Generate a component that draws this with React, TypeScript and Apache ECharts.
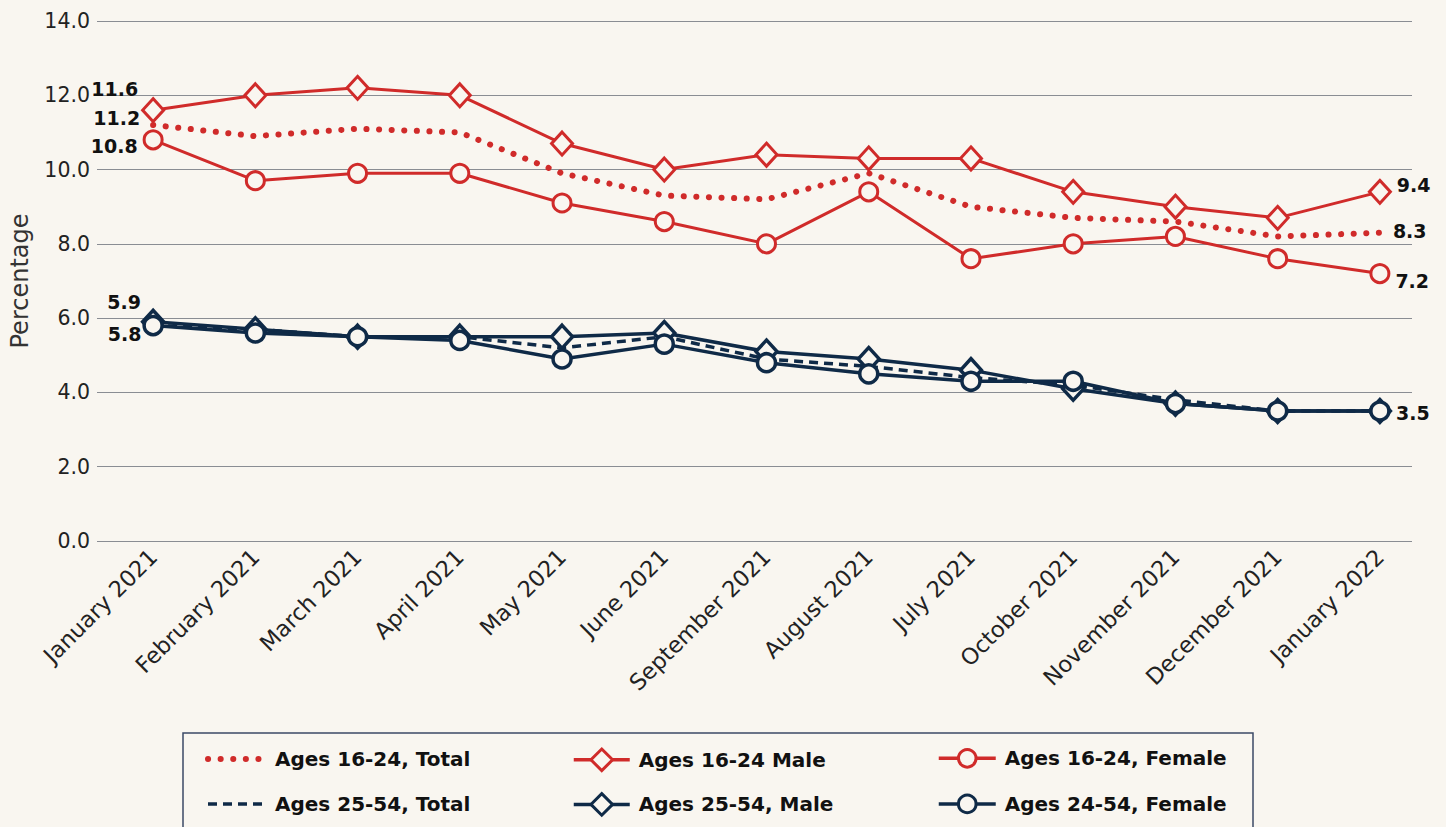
import React, { useEffect, useRef } from "react";
import * as echarts from "echarts";

const categories = [
  "January 2021", "February 2021", "March 2021", "April 2021", "May 2021", "June 2021",
  "September 2021", "August 2021", "July 2021", "October 2021", "November 2021",
  "December 2021", "January 2022",
];
const total1624 = [11.2, 10.9, 11.1, 11.0, 9.9, 9.3, 9.2, 9.9, 9.0, 8.7, 8.6, 8.2, 8.3];
const male1624 = [11.6, 12.0, 12.2, 12.0, 10.7, 10.0, 10.4, 10.3, 10.3, 9.4, 9.0, 8.7, 9.4];
const female1624 = [10.8, 9.7, 9.9, 9.9, 9.1, 8.6, 8.0, 9.4, 7.6, 8.0, 8.2, 7.6, 7.2];
const total2554 = [5.8, 5.7, 5.5, 5.5, 5.2, 5.5, 4.9, 4.7, 4.4, 4.2, 3.8, 3.5, 3.5];
const male2554 = [5.9, 5.7, 5.5, 5.5, 5.5, 5.6, 5.1, 4.9, 4.6, 4.1, 3.7, 3.5, 3.5];
const female2454 = [5.8, 5.6, 5.5, 5.4, 4.9, 5.3, 4.8, 4.5, 4.3, 4.3, 3.7, 3.5, 3.5];
const yTicks = { min: 0, max: 14, interval: 2 };

const RED = "#d02b2a";
const NAVY = "#0f2a47";
const BG = "#f9f6f0";
const FONT = "DejaVu Sans";

const DOTTED = { width: 6, type: [0.1, 12.5], cap: "round" };
const DASHED = { width: 3.5, type: [9, 6] };

type LabelSpec = { idx: number; position: string; distance: number; offset: number[] };

function withLabels(values: number[], specs: LabelSpec[], zeroSymbol = false) {
  return values.map((v, i) => {
    const s = specs.find((x) => x.idx === i);
    if (!s) return v;
    const item: any = {
      value: v,
      label: {
        show: true,
        position: s.position,
        distance: s.distance,
        offset: s.offset,
        formatter: (p: any) => Number(p.value).toFixed(1),
        color: "#111",
        fontWeight: "bold",
        fontSize: 19,
        fontFamily: FONT,
      },
    };
    if (zeroSymbol) {
      item.symbol = "circle";
      item.symbolSize = 0;
    }
    return item;
  });
}

export default function App() {
  const ref = useRef<HTMLDivElement>(null);
  useEffect(() => {
    if (!ref.current) return;
    const chart = echarts.init(ref.current, undefined, { renderer: "svg" });
    const common = { xAxisIndex: 1, yAxisIndex: 1, type: "line" as const };
    const diamond = { symbol: "diamond", symbolSize: [21, 23] };
    const circle = { symbol: "circle", symbolSize: 18 };
    const legendText = (pad: number) => ({
      fontSize: 20, fontWeight: "bold", color: "#111", fontFamily: FONT, padding: [0, 0, 0, pad],
    });
    const solidLegend = (name: string, color: string) => ({
      name,
      lineStyle: { width: 3.5, color },
      itemStyle: { borderWidth: 3, borderColor: color, color: BG },
    });
    chart.setOption({
      animation: false,
      backgroundColor: BG,
      textStyle: { fontFamily: FONT },
      grid: [
        { left: 97, right: 34, top: 21, bottom: 286 },
        { left: 102, right: 15, top: 21, bottom: 286 },
      ],
      xAxis: [
        { gridIndex: 0, type: "value", min: 0, max: 1, show: false },
        {
          gridIndex: 1,
          type: "category",
          data: categories,
          boundaryGap: true,
          axisLine: { show: false },
          axisTick: { show: false },
          axisLabel: {
            rotate: 45,
            interval: 0,
            margin: 12,
            fontSize: 22.5,
            color: "#222",
            fontFamily: FONT,
          },
        },
      ],
      yAxis: [
        {
          gridIndex: 0,
          type: "value",
          min: yTicks.min,
          max: yTicks.max,
          interval: yTicks.interval,
          axisLine: { show: false },
          axisTick: { show: false },
          splitLine: { lineStyle: { color: "#8a8d93", width: 1.2 } },
          axisLabel: {
            formatter: (v: number) => v.toFixed(1),
            fontSize: 20.5,
            color: "#222",
            margin: 7,
            fontFamily: FONT,
          },
          name: "Percentage",
          nameLocation: "middle",
          nameGap: 65,
          nameTextStyle: { fontSize: 24, color: "#333", fontFamily: FONT },
        },
        {
          gridIndex: 1,
          type: "value",
          min: yTicks.min,
          max: yTicks.max,
          interval: yTicks.interval,
          show: false,
          splitLine: { show: false },
        },
      ],
      legend: [
        {
          left: 205, top: 749, padding: 0, orient: "vertical", itemWidth: 60, itemHeight: 20, itemGap: 25,
          data: [
            { name: "Ages 16-24, Total", lineStyle: { ...DOTTED, color: RED }, itemStyle: { opacity: 0 } },
            { name: "Ages 25-54, Total", lineStyle: { ...DASHED, color: NAVY }, itemStyle: { opacity: 0 } },
          ],
          textStyle: legendText(2),
        },
        {
          left: 572, top: 747.5, padding: 0, orient: "vertical", itemWidth: 56, itemHeight: 27, itemGap: 20,
          data: [solidLegend("Ages 16-24 Male", RED), solidLegend("Ages 25-54, Male", NAVY)],
          textStyle: legendText(4),
        },
        {
          left: 937, top: 748, padding: 0, orient: "vertical", itemWidth: 57, itemHeight: 22, itemGap: 25,
          data: [solidLegend("Ages 16-24, Female", RED), solidLegend("Ages 24-54, Female", NAVY)],
          textStyle: legendText(4),
        },
      ],
      graphic: [
        {
          type: "rect",
          shape: { x: 183, y: 733, width: 1070, height: 120 },
          style: { fill: "none", stroke: "#3b4a66", lineWidth: 1.5 },
          silent: true,
        },
      ],
      series: [
        {
          ...common,
          name: "Ages 25-54, Total",
          symbol: "none",
          color: NAVY,
          lineStyle: { color: NAVY, ...DASHED },
          data: total2554,
          z: 3,
        },
        {
          ...common,
          name: "Ages 25-54, Male",
          ...diamond,
          color: NAVY,
          itemStyle: { color: BG, borderColor: NAVY, borderWidth: 3.5 },
          lineStyle: { color: NAVY, width: 3.5 },
          data: withLabels(male2554, [
            { idx: 0, position: "left", distance: 0, offset: [0, -20] },
            { idx: 12, position: "right", distance: 4, offset: [0, 2] },
          ]),
          z: 4,
        },
        {
          ...common,
          name: "Ages 24-54, Female",
          ...circle,
          color: NAVY,
          itemStyle: { color: BG, borderColor: NAVY, borderWidth: 3.5 },
          lineStyle: { color: NAVY, width: 3.5 },
          data: withLabels(female2454, [
            { idx: 0, position: "left", distance: 1, offset: [0, 8] },
          ]),
          z: 4,
        },
        {
          ...common,
          name: "Ages 16-24, Total",
          symbol: "none",
          color: RED,
          lineStyle: { color: RED, ...DOTTED },
          data: withLabels(
            total1624,
            [
              { idx: 0, position: "left", distance: 13, offset: [0, -7] },
              { idx: 12, position: "right", distance: 13, offset: [0, -2] },
            ],
            true
          ),
          z: 3,
        },
        {
          ...common,
          name: "Ages 16-24 Male",
          ...diamond,
          color: RED,
          itemStyle: { color: BG, borderColor: RED, borderWidth: 3 },
          lineStyle: { color: RED, width: 3 },
          data: withLabels(male1624, [
            { idx: 0, position: "left", distance: 3, offset: [0, -21] },
            { idx: 12, position: "right", distance: 5, offset: [0, -7] },
          ]),
          z: 4,
        },
        {
          ...common,
          name: "Ages 16-24, Female",
          ...circle,
          color: RED,
          itemStyle: { color: BG, borderColor: RED, borderWidth: 3 },
          lineStyle: { color: RED, width: 3 },
          data: withLabels(female1624, [
            { idx: 0, position: "left", distance: 5, offset: [0, 6] },
            { idx: 12, position: "right", distance: 5, offset: [0, 7] },
          ]),
          z: 4,
        },
      ],
    });
    return () => chart.dispose();
  }, []);
  return <div ref={ref} style={{ width: 1446, height: 827, position: "fixed", left: 0, top: 0 }} />;
}
